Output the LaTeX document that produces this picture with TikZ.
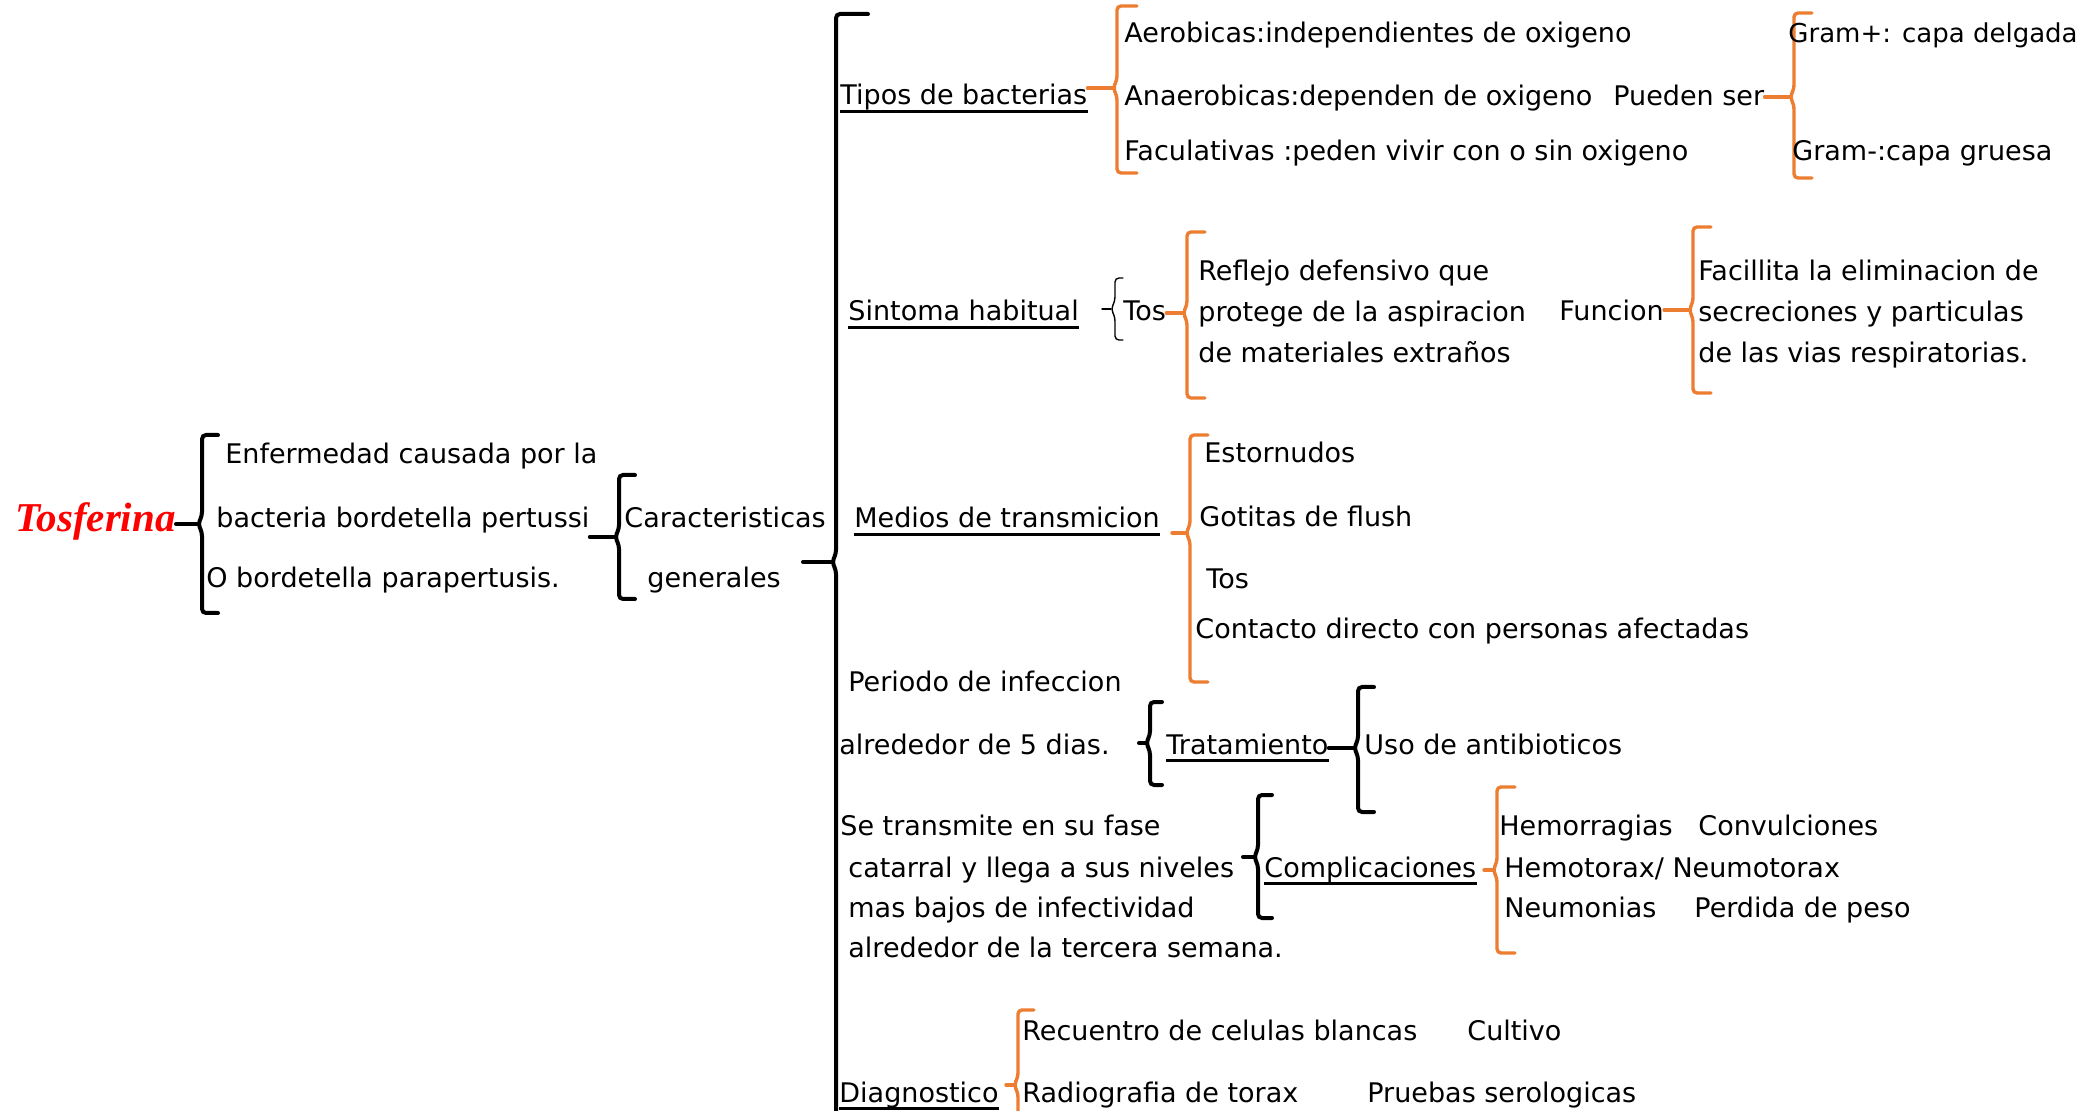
\documentclass[tikz,border=0pt]{standalone}
\usepackage{fontspec}
\setmainfont{DejaVu Sans}
\newfontfamily\titlefont{Liberation Serif}

\definecolor{brkorange}{RGB}{237,125,49}
\newcommand{\mapfont}{\fontsize{13.5}{16}\selectfont}

% bracket: [style]{tip name}{x}{top}{tip y}{bottom}{serif}
\newcommand{\mapbrace}[7][]{%
  \coordinate (#2) at (#3-4,#5);
  \draw[blk,#1] (#3+#7,#4) -- (#3,#4) -- (#3,#5-8) -- (#2) -- (#3,#5+8)
    -- (#3,#6) -- (#3+#7,#6);
}

\begin{document}
\begin{tikzpicture}[x=0.5pt, y=-0.5pt,
    txt/.style={anchor=base west, inner sep=0pt, font=\mapfont},
    ul/.style={text depth=3pt, append after command={
        (\tikzlastnode.south west) edge[line width=1.5pt] (\tikzlastnode.south east)}},
    blk/.style={line width=2pt, rounded corners=2pt, line cap=round},
    org/.style={blk, draw=brkorange, line width=1.7pt},
    thinbrk/.style={blk, line width=0.7pt}
]
  \useasboundingbox (0,0) rectangle (2087,1111);
  \clip (0,0) rectangle (2087,1111);

  % Titulo
  \node[txt, font={\titlefont\fontsize{20.5}{24}\selectfont\bfseries\itshape},
        text=red] (tosferina) at (15,532) {Tosferina};

  % Definicion
  \mapbrace{b1}{202}{435}{524}{613}{16}
  \draw[blk] (tosferina.east |- b1) -- (b1);
  \node[txt] (enf1) at (225,464) {Enfermedad causada por la};
  \node[txt] (enf2) at (216,528) {bacteria bordetella pertussi};
  \node[txt] (enf3) at (206,588) {O bordetella parapertusis.};

  % Caracteristicas generales
  \mapbrace{b2}{619}{475}{537}{599}{16}
  \draw[blk] (enf2.east |- b2) -- (b2);
  \node[txt] (carac) at (624,528) {Caracteristicas};
  \node[txt] (gen) at (647,588) {generales};

  \mapbrace{b3}{836}{14}{562}{1130}{32}
  \coordinate (b3in) at (803,562);
  \draw[blk] (b3in) -- (b3);

  % Tipos de bacterias
  \node[txt, ul] (tipos) at (840,105) {Tipos de bacterias};
  \mapbrace[org]{b4}{1117}{6}{88}{173}{20}
  \draw[org] (tipos.east |- b4) -- (b4);
  \node[txt] (aer) at (1124,43) {Aerobicas:independientes de oxigeno};
  \node[txt] (anaer) at (1124,106) {Anaerobicas:dependen de oxigeno};
  \node[txt] (facul) at (1124,161) {Faculativas :peden vivir con o sin oxigeno};
  \node[txt] (pueden) at (1613,106) {Pueden ser};
  \mapbrace[org]{b5}{1794}{13}{97}{178}{18}
  \draw[org] (pueden.east |- b5) -- (b5);
  \node[txt, font=\fontsize{13}{16}\selectfont] (gramp) at (1788,43) {Gram+: capa delgada};
  \node[txt] (gramn) at (1792,161) {Gram-:capa gruesa};

  % Sintoma habitual
  \node[txt, ul] (sintoma) at (848,321) {Sintoma habitual};
  \mapbrace[thinbrk]{b6}{1115}{278}{309}{340}{8}
  \coordinate (b6in) at (1102,309);
  \draw[thinbrk] (b6in) -- (b6);
  \node[txt] (tos) at (1123,321) {Tos};
  \mapbrace[org]{b7}{1187}{232}{313}{398}{18}
  \draw[org] (tos.east |- b7) -- (b7);
  \node[txt] (refl1) at (1198,281) {Reflejo defensivo que};
  \node[txt] (refl2) at (1198,322) {protege de la aspiracion};
  \node[txt] (refl3) at (1198,363) {de materiales extraños};
  \node[txt] (funcion) at (1559,321) {Funcion};
  \mapbrace[org]{b8}{1693}{227}{310}{393}{18}
  \draw[org] (funcion.east |- b8) -- (b8);
  \node[txt] (fac1) at (1698,281) {Facillita la eliminacion de};
  \node[txt] (fac2) at (1698,322) {secreciones y particulas};
  \node[txt] (fac3) at (1698,363) {de las vias respiratorias.};

  % Medios de transmicion
  \node[txt, ul] (medios) at (854,528) {Medios de transmicion};
  \mapbrace[org]{b9}{1190}{435}{533}{682}{18}
  \coordinate (b9in) at (1172,533);
  \draw[org] (b9in) -- (b9);
  \node[txt] (est) at (1204,463) {Estornudos};
  \node[txt] (got) at (1199,527) {Gotitas de flush};
  \node[txt] (tos2) at (1206,589) {Tos};
  \node[txt] (contacto) at (1195,639) {Contacto directo con personas afectadas};

  % Periodo y tratamiento
  \node[txt] (per1) at (848,691) {Periodo de infeccion};
  \node[txt] (per2) at (839,754) {alrededor de 5 dias.};
  \mapbrace{b10}{1150}{702}{743}{785}{12}
  \coordinate (b10in) at (1139,743);
  \draw[blk] (b10in) -- (b10);
  \node[txt, ul] (trat) at (1166,754) {Tratamiento};
  \mapbrace{b11}{1358}{687}{748}{812}{16}
  \draw[blk] (trat.east |- b11) -- (b11);
  \node[txt] (uso) at (1364,754) {Uso de antibioticos};

  % Complicaciones
  \node[txt] (se1) at (840,835) {Se transmite en su fase};
  \node[txt] (se2) at (848,877) {catarral y llega a sus niveles};
  \node[txt] (se3) at (848,917) {mas bajos de infectividad};
  \node[txt] (se4) at (848,957) {alrededor de la tercera semana.};
  \mapbrace{b12}{1258}{795}{857}{918}{14}
  \coordinate (b12in) at (1243,857);
  \draw[blk] (b12in) -- (b12);
  \node[txt, ul] (compl) at (1264,877) {Complicaciones};
  \mapbrace[org]{b13}{1497}{787}{870}{953}{18}
  \coordinate (b13in) at (1484,870);
  \draw[org] (b13in) -- (b13);
  \node[txt] (hem) at (1499,835) {Hemorragias};
  \node[txt] (conv) at (1698,835) {Convulciones};
  \node[txt] (hemo) at (1504,877) {Hemotorax/ Neumotorax};
  \node[txt] (neum) at (1504,917) {Neumonias};
  \node[txt] (perd) at (1694,917) {Perdida de peso};

  % Diagnostico
  \node[txt, ul] (diag) at (839,1102) {Diagnostico};
  \mapbrace[org]{b14}{1018}{1010}{1085}{1130}{16}
  \coordinate (b14in) at (1006,1085);
  \draw[org] (b14in) -- (b14);
  \node[txt] (rec) at (1022,1040) {Recuentro de celulas blancas};
  \node[txt] (cult) at (1467,1040) {Cultivo};
  \node[txt] (radio) at (1022,1102) {Radiografia de torax};
  \node[txt] (prue) at (1367,1102) {Pruebas serologicas};
\end{tikzpicture}
\end{document}
